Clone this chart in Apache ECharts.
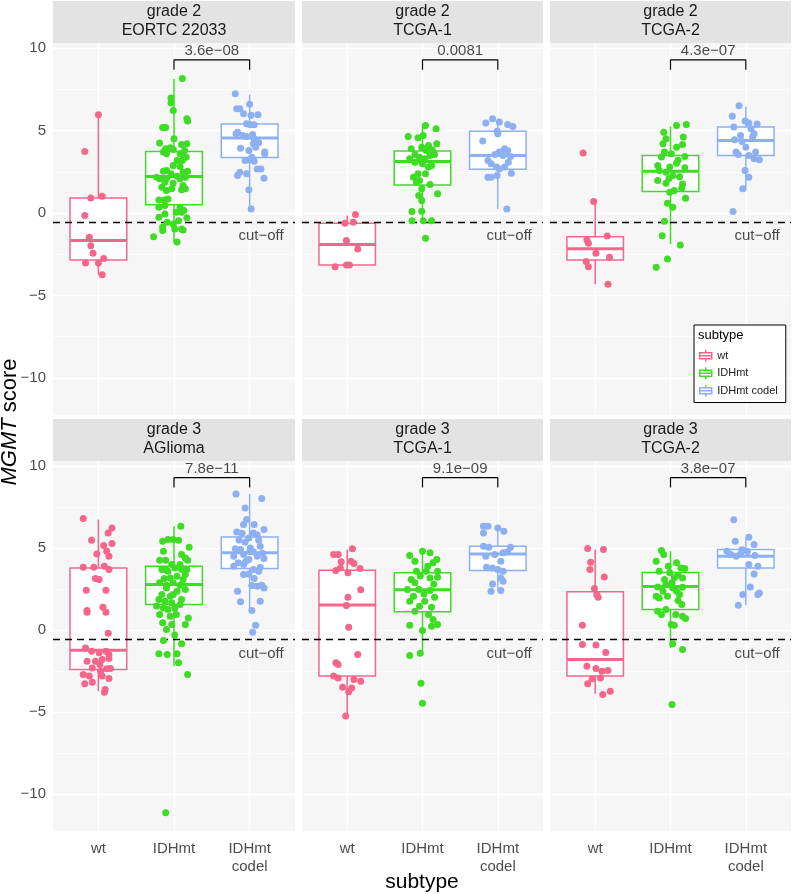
<!DOCTYPE html>
<html lang="en">
<head>
<meta charset="utf-8">
<title>MGMT score by subtype</title>
<script src="https://cdn.jsdelivr.net/npm/echarts@6/dist/echarts.min.js"></script>
<style>
    html, body { margin: 0; padding: 0; background: #fff; }
    #main { width: 793px; height: 894px; }
</style>
</head>
<body>
<div id="main"></div>
<script type="text/javascript">
// categories / labels
var subtypes = ['wt', 'IDHmt', 'IDHmt codel'];
var xLabels = ['wt', 'IDHmt', 'IDHmt\ncodel'];
var panelGrade = ['grade 2', 'grade 2', 'grade 2', 'grade 3', 'grade 3', 'grade 3'];
var panelCohort = ['EORTC 22033', 'TCGA-1', 'TCGA-2', 'AGlioma', 'TCGA-1', 'TCGA-2'];
var pValues = ['3.6e\u221208', '0.0081', '4.3e\u221207', '7.8e\u221211', '9.1e\u221209', '3.8e\u221207'];
var cutoff = -0.56;
var bracketY = [8.7, 9.3];
var yTicks = [-10, -5, 0, 5, 10];
var yMinor = [-7.5, -2.5, 2.5, 7.5];

// box stats per subtype: [lower whisker, Q1, median, Q3, upper whisker]
var box_g2_eortc = [[-3.74, -2.85, -1.67, 0.92, 5.97], [-1.77, 0.50, 2.22, 3.74, 8.14], [0.21, 3.37, 4.55, 5.40, 7.20]];
var box_g2_tcga1 = [[-3.25, -3.15, -1.91, -0.62, -0.15], [-0.46, 1.71, 3.13, 3.76, 5.32], [0.25, 2.66, 3.50, 4.97, 5.72]];
var box_g2_tcga2 = [[-4.31, -2.85, -2.16, -1.43, 0.76], [-1.87, 1.31, 2.54, 3.50, 5.26], [1.41, 3.50, 4.41, 5.22, 6.47]];
var box_g3_aglioma = [[-3.72, -2.40, -1.22, 3.80, 6.75], [-2.20, 1.57, 2.78, 3.90, 6.34], [1.20, 3.76, 4.72, 5.69, 8.31]];
var box_g3_tcga1 = [[-5.24, -2.80, 1.54, 3.66, 4.92], [-1.40, 1.12, 2.46, 3.50, 4.82], [2.38, 3.64, 4.65, 5.12, 6.24]];
var box_g3_tcga2 = [[-3.88, -2.80, -1.79, 2.34, 4.92], [-1.08, 1.26, 2.66, 3.52, 4.82], [1.52, 3.80, 4.51, 4.92, 5.59]];

// jittered samples: [jitter offset, MGMT score]
var g2_eortc_wt = [[0, 5.97], [-0.18, 3.74], [-0.10, 0.92], [0.05, 1.02], [-0.18, -0.15], [-0.12, -1.47], [-0.10, -1.98], [-0.07, -2.44], [0.07, -2.75], [-0.17, -3.03], [0, -3.03], [0.05, -3.74]];
var g2_eortc_idh = [[0.11, 8.16], [-0.04, 6.98], [-0.04, 6.68], [-0.01, 6.23], [0.17, 5.72], [0.18, 5.58], [-0.15, 5.20], [-0.11, 5.20], [0, 4.51], [-0.19, 4.25], [0.17, 4.20], [0.10, 4.16], [-0.11, 3.90], [-0.01, 3.86], [-0.05, 3.96], [0.14, 3.80], [0.08, 3.60], [-0.14, 3.70], [-0.10, 3.60], [0.12, 3.50], [0.16, 3.39], [0.04, 3.19], [0.11, 3.19], [-0.01, 2.89], [0.08, 2.83], [-0.10, 2.58], [-0.14, 2.54], [0.18, 2.54], [0.12, 2.48], [-0.04, 2.38], [-0.23, 2.18], [-0.19, 2.08], [-0.10, 2.12], [0.04, 2.24], [0.15, 2.18], [-0.12, 1.87], [-0.01, 1.81], [0.08, 2.08], [-0.16, 1.57], [0.12, 1.67], [0.15, 1.47], [0.10, 1.41], [-0.10, 1.37], [-0.03, 1.47], [-0.20, 0.80], [-0.13, 0.80], [-0.08, 0.86], [-0.20, 0.35], [-0.12, 0.46], [0.08, 0.35], [0.13, 0.15], [0.03, 0.05], [0.10, 0.05], [-0.12, -0.05], [-0.20, -0.25], [0.17, -0.29], [0.06, -0.46], [-0.09, -0.56], [-0.01, -0.66], [-0.15, -0.86], [0.10, -0.96], [0.01, -0.96], [-0.15, -1.06], [0.12, -1.02], [-0.27, -1.43], [0.04, -1.75]];
var g2_eortc_codel = [[-0.19, 7.24], [0, 6.60], [-0.17, 6.33], [-0.13, 6.33], [0.02, 5.93], [0.11, 5.97], [-0.08, 6.03], [-0.04, 5.42], [0.01, 5.36], [0.06, 5.36], [-0.16, 4.91], [-0.18, 4.81], [-0.09, 4.71], [-0.04, 4.65], [0.04, 4.77], [0.06, 4.51], [0.12, 4.27], [0.05, 4.20], [0.08, 4.00], [-0.12, 3.94], [-0.01, 3.80], [0.20, 3.70], [0.20, 3.60], [0.03, 3.39], [0, 3.23], [-0.06, 3.19], [0.06, 3.15], [0.10, 2.68], [0.15, 2.68], [-0.13, 2.48], [-0.04, 2.38], [-0.16, 2.28], [0.19, 2.12], [-0.01, 1.41], [0.02, 0.25]];

var g2_tcga1_wt = [[0.11, -0.09], [-0.03, -0.62], [0.08, -0.56], [-0.01, -1.67], [0.14, -2.18], [-0.16, -3.25], [-0.01, -3.15], [0.03, -3.15]];
var g2_tcga1_idh = [[0.04, 5.32], [0.18, 5.12], [-0.19, 4.65], [0.01, 4.71], [-0.06, 4.57], [0.08, 4.10], [0.19, 4.20], [-0.15, 3.90], [-0.01, 4.00], [0.05, 3.80], [0.13, 3.84], [-0.10, 3.56], [-0.17, 3.29], [-0.04, 3.39], [0.03, 3.29], [0.10, 3.49], [0.16, 3.56], [-0.10, 3.09], [0, 2.99], [0.08, 2.79], [0.12, 2.89], [-0.06, 2.38], [-0.12, 2.18], [0.04, 2.38], [-0.04, 1.98], [-0.08, 1.87], [0.10, 1.73], [-0.01, 1.47], [0.20, 1.17], [-0.05, 1.06], [-0.01, 0.76], [-0.14, 0.09], [-0.01, 0.11], [-0.14, -0.46], [0.01, -0.46], [0.12, -0.46], [0.04, -1.53]];
var g2_tcga1_codel = [[-0.07, 5.72], [-0.16, 5.46], [0.02, 5.52], [0.13, 5.38], [0.20, 5.26], [-0.01, 4.97], [-0.20, 4.37], [0, 4.81], [0.09, 3.90], [0.02, 3.70], [0.13, 3.80], [-0.04, 3.56], [0.07, 3.49], [0.17, 3.43], [-0.13, 3.19], [-0.09, 2.99], [0.14, 3.09], [-0.02, 2.79], [0.02, 2.68], [0.09, 2.79], [-0.13, 2.18], [-0.09, 2.18], [-0.01, 2.28], [0.18, 2.42], [0.12, 0.25]];

var g2_tcga2_wt = [[-0.16, 3.64], [-0.02, 0.70], [0.16, -1.39], [-0.11, -1.63], [-0.09, -1.83], [0.01, -2.44], [0.19, -2.68], [-0.12, -2.93], [-0.09, -3.25], [0.17, -4.31]];
var g2_tcga2_idh = [[-0.09, 4.91], [0.08, 5.32], [0.21, 5.38], [0.17, 4.61], [-0.06, 4.51], [0.08, 4.00], [0.16, 4.16], [-0.08, 3.70], [0.01, 3.60], [0.19, 3.43], [-0.17, 2.89], [-0.01, 2.79], [0.19, 2.75], [0.08, 3.03], [-0.15, 2.58], [-0.06, 2.48], [0.03, 2.28], [-0.17, 1.98], [-0.06, 1.81], [0.16, 1.77], [0.05, 1.37], [-0.01, 1.27], [0.20, 0.90], [-0.04, 0.60], [0.03, 0.35], [-0.08, -0.50], [-0.11, -1.37], [0.13, -1.94], [-0.04, -2.79], [-0.19, -3.29], [-0.10, 4.20], [0.10, 3.20], [-0.12, 3.40], [0.12, 2.20], [-0.02, 2.10], [0.15, 1.50]];
var g2_tcga2_codel = [[-0.09, 6.51], [-0.18, 5.87], [-0.01, 5.58], [0.04, 5.46], [-0.16, 5.22], [0.07, 5.12], [0.11, 4.81], [-0.07, 4.71], [0.09, 4.61], [0, 4.00], [0.13, 3.70], [-0.13, 3.70], [-0.10, 3.56], [0.04, 3.50], [0.11, 3.29], [0.18, 3.23], [-0.01, 2.58], [0.04, 2.18], [-0.04, 1.47], [-0.17, 0.09], [-0.05, 4.35], [0.15, 5.40], [-0.15, 4.45]];

var g3_aglioma_wt = [[-0.20, 6.81], [0.18, 6.24], [0.13, 5.93], [-0.09, 5.49], [0.18, 5.28], [0.07, 5.16], [-0.02, 4.65], [0.11, 4.82], [0.14, 4.51], [-0.20, 3.84], [-0.06, 3.84], [0.08, 3.90], [0.14, 3.70], [-0.04, 3.15], [0.01, 3.09], [-0.16, 2.44], [0.10, 2.44], [-0.15, 1.20], [0.06, 1.40], [0.10, 1.10], [-0.15, 1.10], [0.13, -0.18], [-0.17, -1.08], [-0.09, -1.28], [0.01, -1.38], [0.10, -1.28], [0.14, -1.48], [-0.15, -1.89], [-0.04, -1.89], [0.05, -1.79], [0.14, -1.73], [0.02, -2.09], [-0.08, -2.30], [0.11, -2.36], [0.16, -2.34], [0.03, -2.50], [-0.20, -2.70], [-0.12, -2.80], [0.05, -2.80], [0.14, -2.95], [-0.08, -3.17], [-0.18, -3.27], [0.09, -3.62], [0.08, -3.78]];
var g3_aglioma_idh = [[0.09, 6.34], [-0.15, 5.43], [-0.08, 5.53], [-0.01, 5.53], [0.06, 5.49], [-0.14, 4.82], [0.20, 5.06], [0.10, 4.61], [0.15, 4.41], [0.18, 4.27], [-0.19, 4.27], [-0.11, 4.27], [-0.03, 4.00], [0.08, 4.00], [-0.10, 3.66], [0.01, 3.80], [0.17, 3.70], [-0.13, 3.15], [-0.05, 3.19], [0.04, 3.29], [0.12, 3.09], [-0.19, 2.89], [-0.01, 2.89], [0.08, 2.74], [-0.10, 2.58], [0.15, 2.48], [-0.16, 2.17], [-0.05, 2.07], [0.04, 2.38], [0.10, 1.87], [-0.20, 1.87], [-0.12, 1.77], [-0.03, 1.67], [0.08, 1.57], [-0.14, 1.36], [-0.08, 1.26], [0.01, 1.36], [-0.19, 0.96], [-0.05, 0.85], [0.19, 0.75], [0.15, 0.35], [-0.15, 0.45], [-0.03, 0.35], [-0.10, 0.04], [-0.14, -0.63], [0.01, -0.30], [0.10, -0.83], [-0.20, -1.44], [-0.09, -1.48], [0.04, -1.44], [0.06, -1.99], [0.18, -2.70], [-0.11, -11.14], [-0.08, 3.60], [0.15, 3.39], [-0.23, 1.47], [0.03, 0.96], [-0.10, 2.74], [0.10, 3.70], [-0.16, 3.70], [-0.01, 2.17]];
var g3_aglioma_codel = [[-0.18, 8.31], [0.16, 8.03], [-0.06, 7.46], [-0.04, 6.75], [-0.08, 6.44], [0.06, 6.44], [0.19, 6.14], [-0.17, 5.99], [-0.10, 5.91], [0.05, 5.93], [-0.01, 5.63], [0.12, 5.49], [-0.06, 5.37], [-0.19, 4.96], [-0.12, 4.92], [0.01, 5.02], [0.14, 5.12], [0.05, 4.78], [-0.08, 4.61], [-0.21, 4.51], [0.10, 4.51], [-0.01, 4.31], [0.19, 4.37], [-0.15, 4.11], [-0.08, 4.00], [0.14, 3.84], [-0.21, 3.90], [0.05, 3.70], [0.12, 3.60], [-0.08, 3.39], [-0.01, 3.43], [0.06, 3.15], [0.10, 2.68], [0.16, 2.74], [0.19, 2.58], [-0.16, 2.38], [0.03, 2.72], [-0.12, 1.73], [0.14, 1.77], [0.03, 1.20], [0.08, 0.30], [0.04, -0.12], [0.10, 5.80], [-0.14, 5.50], [0, 4.80], [0.17, 4.70], [-0.05, 4.20]];

var g3_tcga1_wt = [[-0.18, 4.61], [-0.12, 4.61], [0.07, 4.96], [-0.08, 4.17], [0.05, 4.21], [0.09, 4.07], [-0.15, 3.64], [-0.09, 3.80], [0.01, 3.50], [0.17, 3.76], [0.18, 2.46], [0.01, 2.01], [-0.01, 1.50], [0.02, 0.18], [-0.15, -1.99], [-0.12, -2.09], [0.14, -1.48], [-0.18, -2.80], [-0.12, -2.91], [0.09, -3.01], [0.18, -3.11], [-0.06, -3.48], [0.06, -3.52], [0.02, -3.76], [-0.02, -5.24]];
var g3_tcga1_idh = [[-0.17, 4.55], [0, 4.82], [0.10, 4.72], [0.19, 4.31], [-0.10, 4.21], [0.14, 4.11], [0.07, 3.90], [-0.08, 3.60], [0.20, 3.23], [0.10, 3.19], [-0.15, 3.09], [-0.20, 2.48], [-0.05, 2.48], [0.10, 2.42], [-0.12, 2.07], [0.03, 1.77], [0.16, 2.01], [-0.17, 1.77], [-0.04, 1.46], [-0.10, 1.16], [0.08, 0.96], [0.14, 0.65], [0.20, 0.35], [-0.17, 0.30], [0.12, 0.24], [0, -0.02], [-0.03, -1.40], [-0.17, -1.54], [-0.02, -3.23], [0, -4.45], [0.05, 3.60], [0.20, 3.60], [-0.03, 3.30], [0.15, 2.80], [-0.10, 2.90], [0.02, 2.20], [0.12, 1.40]];
var g3_tcga1_codel = [[-0.19, 6.34], [-0.13, 6.34], [-0.19, 5.93], [0, 6.24], [0.08, 6.04], [-0.19, 5.12], [-0.12, 5.06], [0.17, 5.06], [0.07, 4.72], [0.13, 4.78], [-0.04, 4.61], [-0.16, 4.51], [0.04, 4.21], [-0.15, 3.84], [-0.07, 3.80], [0, 3.70], [0.07, 3.60], [0.04, 3.19], [0.07, 2.99], [-0.07, 2.82], [-0.09, 2.38], [0.04, 2.42]];

var g3_tcga2_wt = [[-0.10, 4.98], [0.11, 4.92], [-0.06, 4.15], [-0.07, 3.70], [0.12, 3.25], [-0.01, 2.54], [0.02, 2.17], [0.04, 2.01], [-0.17, 0.30], [-0.17, -0.87], [0.01, -0.91], [0.14, -1.36], [-0.11, -2.20], [0.01, -2.34], [0.09, -2.50], [0.17, -2.46], [-0.04, -2.97], [0.07, -2.91], [-0.10, -3.27], [0.20, -3.72], [0.10, -3.92]];
var g3_tcga2_idh = [[-0.12, 4.86], [-0.09, 4.61], [-0.19, 4.21], [0.08, 4.11], [0.14, 3.80], [0.19, 3.76], [-0.15, 3.60], [-0.01, 3.50], [0.10, 3.35], [0.16, 3.19], [-0.08, 3.09], [0.02, 2.89], [-0.17, 2.64], [-0.06, 2.78], [0.16, 2.62], [0.08, 2.38], [-0.19, 2.07], [-0.04, 2.07], [-0.15, 1.97], [0.10, 1.81], [0.15, 1.57], [-0.06, 1.26], [-0.17, 1.16], [-0.12, 0.96], [0.07, 0.96], [0.16, 0.85], [0.20, 0.71], [0.01, 0.35], [0.05, 0.30], [0.03, -0.83], [0.16, -1.18], [0.02, -4.53], [0.03, 2.58], [-0.10, 2.38], [0.12, 2.17], [-0.03, 3.90], [0.05, 3.20]];
var g3_tcga2_codel = [[-0.16, 6.73], [-0.14, 5.43], [0.04, 5.67], [0.11, 5.22], [-0.25, 4.82], [-0.20, 4.61], [-0.13, 4.51], [-0.07, 4.65], [0.04, 4.00], [0.16, 3.90], [0.11, 3.43], [0.06, 2.64], [-0.04, 2.17], [0.16, 2.17], [0.18, 2.27], [-0.10, 1.52], [0.02, 4.80], [-0.05, 4.90], [0.12, 4.55]];

var panelBoxes = [box_g2_eortc, box_g2_tcga1, box_g2_tcga2, box_g3_aglioma, box_g3_tcga1, box_g3_tcga2];
var panelPoints = [
    [g2_eortc_wt, g2_eortc_idh, g2_eortc_codel],
    [g2_tcga1_wt, g2_tcga1_idh, g2_tcga1_codel],
    [g2_tcga2_wt, g2_tcga2_idh, g2_tcga2_codel],
    [g3_aglioma_wt, g3_aglioma_idh, g3_aglioma_codel],
    [g3_tcga1_wt, g3_tcga1_idh, g3_tcga1_codel],
    [g3_tcga2_wt, g3_tcga2_idh, g3_tcga2_codel]
];

// layout
var colors = ['#F4678B', '#3EDC24', '#8CB0F2'];
var font = "'Liberation Sans', Arial, sans-serif";
var panelRects = [[53, 43, 242, 372], [302, 43, 241, 372], [550, 43, 241, 372],
                  [53, 461, 242, 370], [302, 461, 241, 370], [550, 461, 241, 370]];
var stripH = 42;

var myChart = echarts.init(document.getElementById('main'));

function minusSign(v) {
    return String(v).replace('-', '\u2212');
}

// boxplot drawn with the axes' own coord mapping
function renderBox(params, api) {
    var x = api.value(0);
    var lo = api.coord([x, api.value(1)]);
    var q1 = api.coord([x - 0.375, api.value(2)]);
    var md = api.coord([x, api.value(3)]);
    var q3 = api.coord([x + 0.375, api.value(4)]);
    var hi = api.coord([x, api.value(5)]);
    var col = api.visual('color');
    return {
        type: 'group',
        children: [
            {type: 'line', shape: {x1: lo[0], y1: lo[1], x2: lo[0], y2: q1[1]}, style: {stroke: col, lineWidth: 1.5}},
            {type: 'line', shape: {x1: hi[0], y1: q3[1], x2: hi[0], y2: hi[1]}, style: {stroke: col, lineWidth: 1.5}},
            {type: 'rect', shape: {x: q1[0], y: q3[1], width: q3[0] - q1[0], height: q1[1] - q3[1]},
                style: {fill: '#fff', stroke: col, lineWidth: 1.5}},
            {type: 'line', shape: {x1: q1[0], y1: md[1], x2: q3[0], y2: md[1]}, style: {stroke: col, lineWidth: 3}}
        ]
    };
}

var grids = [], xAxes = [], yAxes = [], series = [], graphics = [];

panelRects.forEach(function (r, p) {
    var bottomRow = p >= 3;
    var leftCol = p % 3 === 0;
    grids.push({left: r[0], top: r[1], width: r[2], height: r[3], show: true,
        backgroundColor: '#F6F6F6', borderWidth: 0, outerBoundsMode: 'none'});

    xAxes.push({
        gridIndex: p, type: 'value', min: -0.6, max: 2.6,
        axisLine: {show: false},
        splitLine: {show: false},
        axisTick: {show: bottomRow, customValues: [0, 1, 2], length: 4, lineStyle: {color: '#333', width: 1}},
        axisLabel: {show: bottomRow, customValues: [0, 1, 2], margin: 9, color: '#4d4d4d',
            fontSize: 15, lineHeight: 18, fontFamily: font,
            formatter: function (v) { return xLabels[Math.round(v)]; }}
    });
    yAxes.push({
        gridIndex: p, type: 'value', min: -12.25, max: 10.32,
        axisLine: {show: false},
        splitLine: {show: false},
        axisTick: {show: leftCol, customValues: yTicks, length: 4, lineStyle: {color: '#333', width: 1}},
        axisLabel: {show: leftCol, customValues: yTicks, margin: 7, color: '#4d4d4d',
            fontSize: 15, fontFamily: font, formatter: minusSign}
    });

    // panel grid lines
    var gl = [];
    yMinor.forEach(function (v) { gl.push({yAxis: v, lineStyle: {width: 0.7}}); });
    yTicks.forEach(function (v) { gl.push({yAxis: v, lineStyle: {width: 1.4}}); });
    [0, 1, 2].forEach(function (v) { gl.push({xAxis: v, lineStyle: {width: 1.4}}); });
    series.push({
        type: 'scatter', xAxisIndex: p, yAxisIndex: p, data: [], silent: true, z: 1,
        markLine: {silent: true, z: 1, symbol: ['none', 'none'], label: {show: false},
            lineStyle: {color: '#fff', type: 'solid'}, data: gl, animation: false}
    });

    // boxes
    subtypes.forEach(function (name, k) {
        var b = panelBoxes[p][k];
        series.push({
            type: 'custom', name: name, xAxisIndex: p, yAxisIndex: p, z: 2,
            itemStyle: {color: colors[k]},
            renderItem: renderBox,
            encode: {x: 0, y: [1, 2, 3, 4, 5]},
            data: [[k, b[0], b[1], b[2], b[3], b[4]]]
        });
    });

    // cut-off line and label
    series.push({
        type: 'scatter', xAxisIndex: p, yAxisIndex: p, z: 3, silent: true,
        symbolSize: 1, itemStyle: {color: 'rgba(0,0,0,0)'},
        data: [[2.15, cutoff]],
        label: {show: true, position: 'bottom', distance: 6, formatter: 'cut\u2212off',
            color: '#1a1a1a', fontSize: 15, fontFamily: font},
        markLine: {silent: true, z: 3, symbol: ['none', 'none'], label: {show: false},
            lineStyle: {color: '#000', type: [7, 5], width: 1.3}, data: [{yAxis: cutoff}]}
    });

    // jittered points
    subtypes.forEach(function (name, k) {
        series.push({
            type: 'scatter', name: name, xAxisIndex: p, yAxisIndex: p, z: 4,
            symbolSize: 7, itemStyle: {color: colors[k], opacity: 1},
            data: panelPoints[p][k].map(function (d) { return [k + d[0], d[1]]; })
        });
    });

    // comparison bracket + p-value
    series.push({
        type: 'line', xAxisIndex: p, yAxisIndex: p, z: 5, silent: true,
        symbol: 'none', lineStyle: {color: '#000', width: 1.2},
        data: [[1, bracketY[0]], [1, bracketY[1]], [2, bracketY[1]], [2, bracketY[0]]]
    });
    series.push({
        type: 'scatter', xAxisIndex: p, yAxisIndex: p, z: 5, silent: true,
        symbolSize: 1, itemStyle: {color: 'rgba(0,0,0,0)'},
        data: [[1.5, bracketY[1]]],
        label: {show: true, position: 'top', distance: 1, formatter: pValues[p],
            color: '#1a1a1a', fontSize: 15, fontFamily: font}
    });

    // facet strip
    graphics.push({type: 'rect', shape: {x: r[0], y: r[1] - stripH, width: r[2], height: stripH},
        style: {fill: '#E3E3E3'}, silent: true});
    graphics.push({type: 'text', x: r[0] + r[2] / 2, y: r[1] - stripH / 2 - 0.5, silent: true,
        style: {text: panelGrade[p] + '\n' + panelCohort[p], align: 'center', verticalAlign: 'middle',
            fontSize: 16, lineHeight: 19, fill: '#1a1a1a', fontFamily: font}});
});

// axis titles
graphics.push({type: 'text', x: 10, y: 422, rotation: Math.PI / 2, silent: true,
    style: {text: '{i|MGMT} score', align: 'center', verticalAlign: 'middle',
        fontSize: 22, fill: '#000', fontFamily: font,
        rich: {i: {fontStyle: 'italic', fontSize: 22, fontFamily: font}}}});
graphics.push({type: 'text', x: 422, y: 882, silent: true,
    style: {text: 'subtype', align: 'center', verticalAlign: 'middle',
        fontSize: 21, fill: '#000', fontFamily: font}});

var option = {
    animation: false,
    backgroundColor: '#fff',
    title: {text: 'subtype', left: 698, top: 329,
        textStyle: {fontSize: 13, fontWeight: 'normal', color: '#000', fontFamily: font}, padding: 0, z: 10},
    legend: {
        left: 694, top: 325, orient: 'vertical', z: 9,
        padding: [24, 8, 5, 5], itemGap: 4, itemWidth: 13, itemHeight: 12,
        borderColor: '#000', borderWidth: 1, backgroundColor: '#fff',
        textStyle: {fontSize: 11, color: '#1a1a1a', fontFamily: font},
        data: subtypes.map(function (name, k) {
            return {name: name,
                icon: 'path://M0,3L12,3L12,9L0,9Z M6,0L6,3 M6,9L6,12 M0,6L12,6',
                itemStyle: {color: '#fff', borderColor: colors[k], borderWidth: 1.5}};
        }),
        selectedMode: false
    },
    grid: grids,
    xAxis: xAxes,
    yAxis: yAxes,
    series: series,
    graphic: graphics
};

myChart.setOption(option);
window.addEventListener("resize", () => { myChart.resize(); });
</script>
</body>
</html>
